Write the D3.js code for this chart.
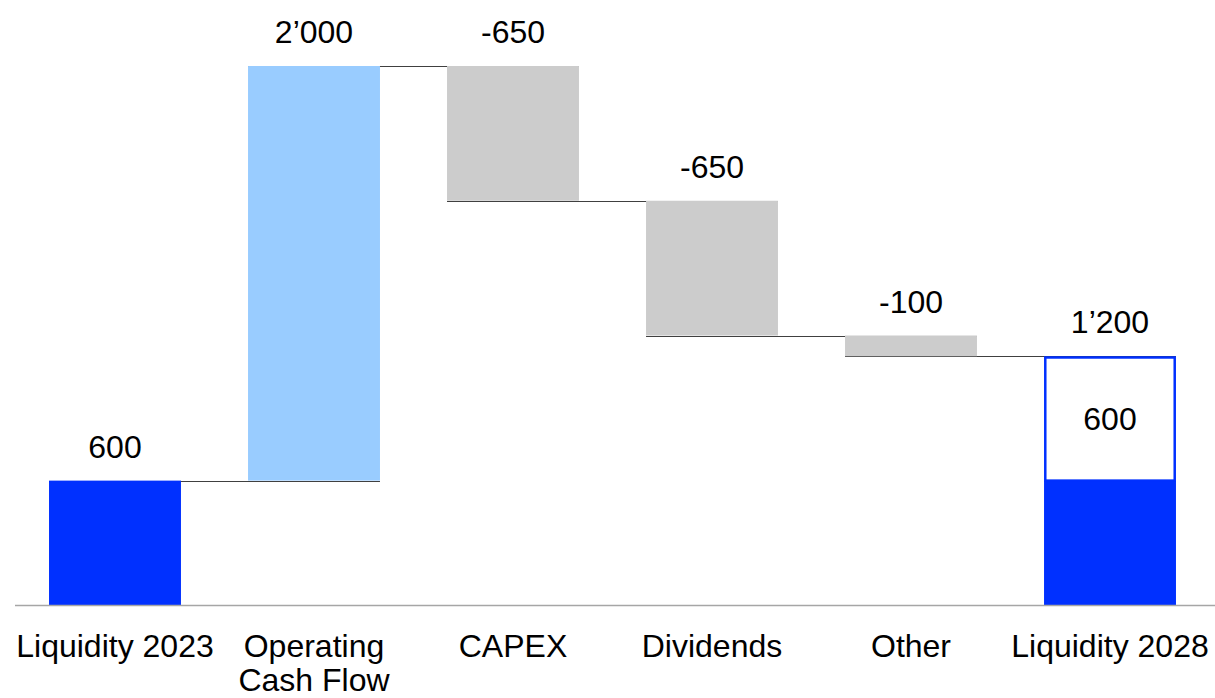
<!DOCTYPE html>
<html>
<head>
<meta charset="utf-8">
<script src="https://cdn.jsdelivr.net/npm/d3@7"></script>
<style>
  html, body { margin: 0; padding: 0; background: #ffffff; }
  svg { display: block; font-family: "Liberation Sans", Arial, sans-serif; }
</style>
</head>
<body>
<svg id="chart" width="1215" height="698"></svg>
<script>
// Liquidity bridge 2023 -> 2028
const categories = ["Liquidity 2023", "Operating\nCash Flow", "CAPEX", "Dividends", "Other", "Liquidity 2028"];
const values = [600, 2000, -650, -650, -100, 1200];
const kinds = ["total", "delta", "delta", "delta", "delta", "total"];
const yTicks = [0, 2600];

const colors = {
  total: "#0030ff",
  up: "#99ccff",
  down: "#cccccc",
  connector: "#404040",
  axis: "#a6a6a6",
  text: "#000000"
};

const W = 1215, H = 698;
const svg = d3.select("#chart");

const fmt = d3.formatLocale({
  decimal: ".", thousands: "\u2019", grouping: [3], currency: ["", ""], minus: "-"
}).format(",d");

// running positions of each step
let running = 0;
const steps = categories.map((c, i) => {
  const v = values[i];
  let start, end;
  if (kinds[i] === "total") { start = 0; end = v; running = v; }
  else { start = running; end = running + v; running = end; }
  return { cat: c, value: v, kind: kinds[i], start, end, lo: Math.min(start, end), hi: Math.max(start, end) };
});

const x = d3.scaleBand()
  .domain(categories)
  .range([15, 1210])
  .paddingInner(0.337)
  .paddingOuter(0.171);

const y = d3.scaleLinear()
  .domain(d3.extent(yTicks))
  .range([605, 66]);

const opening = steps[0].end;

// connectors between consecutive steps
const conn = svg.append("g");
steps.slice(0, -1).forEach((s, i) => {
  const next = steps[i + 1];
  conn.append("line")
    .attr("x1", x(s.cat))
    .attr("x2", x(next.cat) + x.bandwidth())
    .attr("y1", Math.round(y(s.end)) + 0.5)
    .attr("y2", Math.round(y(s.end)) + 0.5)
    .attr("stroke", colors.connector)
    .attr("stroke-width", 1.2);
});

// bars
const bars = svg.append("g");
steps.forEach((s, i) => {
  const bx = x(s.cat), bw = x.bandwidth();
  if (s.kind === "total" && i === 0) {
    bars.append("rect")
      .attr("x", bx).attr("width", bw)
      .attr("y", y(s.hi)).attr("height", y(s.lo) - y(s.hi))
      .attr("fill", colors.total);
  } else if (s.kind === "total") {
    // closing liquidity: opening level solid, increase outlined
    bars.append("rect")
      .attr("x", bx).attr("width", bw)
      .attr("y", y(opening)).attr("height", y(0) - y(opening))
      .attr("fill", colors.total);
    bars.append("rect")
      .attr("x", bx + 1.25).attr("width", bw - 2.5)
      .attr("y", y(s.end) + 1.25).attr("height", y(opening) - y(s.end) - 1.25)
      .attr("fill", "#ffffff")
      .attr("stroke", colors.total)
      .attr("stroke-width", 2.5);
    bars.append("text")
      .attr("x", bx + bw / 2)
      .attr("y", (y(s.end) + y(opening)) / 2)
      .attr("dy", "0.36em")
      .attr("text-anchor", "middle")
      .attr("font-size", 32)
      .attr("fill", colors.text)
      .text(fmt(s.end - opening));
  } else {
    bars.append("rect")
      .attr("x", bx).attr("width", bw)
      .attr("y", y(s.hi)).attr("height", y(s.lo) - y(s.hi))
      .attr("fill", s.value >= 0 ? colors.up : colors.down);
  }
});

// value labels above each step
svg.append("g").selectAll("text")
  .data(steps)
  .join("text")
  .attr("x", d => x(d.cat) + x.bandwidth() / 2)
  .attr("y", d => y(d.hi) - 23)
  .attr("text-anchor", "middle")
  .attr("font-size", 32)
  .attr("fill", colors.text)
  .text(d => fmt(d.value));

// baseline
svg.append("line")
  .attr("x1", 15).attr("x2", W)
  .attr("y1", y(0) + 0.5).attr("y2", y(0) + 0.5)
  .attr("stroke", colors.axis)
  .attr("stroke-width", 1.5);

// category labels
const xAxis = svg.append("g");
categories.forEach(c => {
  const t = xAxis.append("text")
    .attr("x", x(c) + x.bandwidth() / 2)
    .attr("y", 657)
    .attr("text-anchor", "middle")
    .attr("font-size", 32)
    .attr("fill", colors.text);
  c.split("\n").forEach((line, k) => {
    t.append("tspan")
      .attr("x", x(c) + x.bandwidth() / 2)
      .attr("dy", k === 0 ? 0 : 34)
      .text(line);
  });
});
</script>
</body>
</html>
